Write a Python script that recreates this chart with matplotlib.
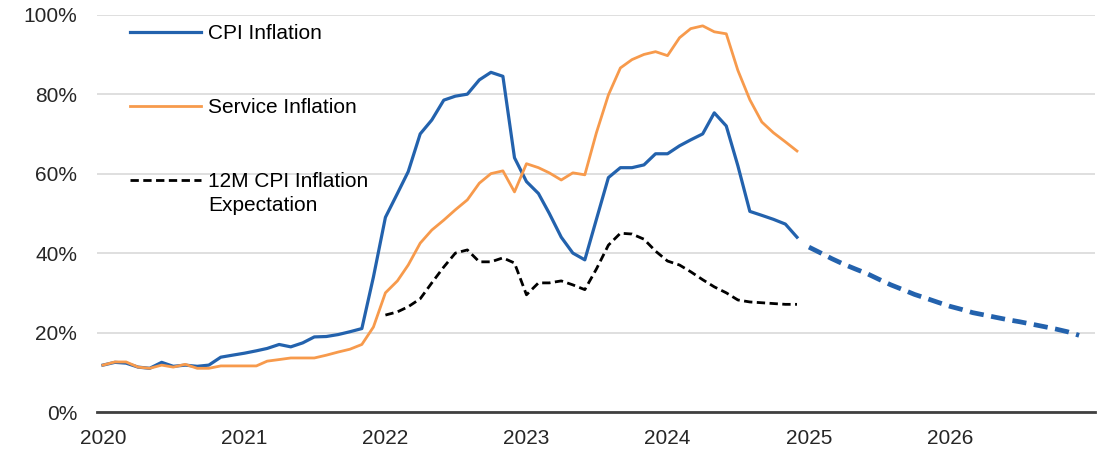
import matplotlib
matplotlib.use('Agg')
import matplotlib.pyplot as plt
import matplotlib.dates as mdates
import numpy as np
import pandas as pd

plt.rcParams['font.family'] = ['Liberation Sans', 'DejaVu Sans']

# monthly values, Jan 2020 - Dec 2024 (%)
cpi = [11.8, 12.5, 12.3, 11.3, 11.0, 12.5, 11.5, 11.8, 11.5, 11.8, 13.8, 14.3,
       14.8, 15.4, 16.0, 17.0, 16.4, 17.4, 18.9, 19.0, 19.5, 20.2, 21.0, 34.0,
       49.0, 55.0, 60.5, 70.0, 73.5, 78.5, 79.5, 80.0, 83.6, 85.5, 84.5, 64.0,
       58.0, 55.0, 50.0, 44.0, 40.0, 38.3, 48.5, 59.0, 61.5, 61.5, 62.2, 65.0,
       65.0, 67.0, 68.5, 70.0, 75.3, 72.0, 62.0, 50.5, 49.5, 48.5, 47.3, 44.0]
service = [11.8, 12.6, 12.6, 11.3, 11.0, 11.8, 11.3, 12.0, 11.0, 11.0, 11.6, 11.6,
           11.6, 11.6, 12.8, 13.2, 13.6, 13.6, 13.6, 14.3, 15.1, 15.8, 17.0, 21.4,
           30.0, 33.0, 37.0, 42.5, 45.8, 48.3, 50.9, 53.4, 57.6, 60.0, 60.7, 55.4,
           62.5, 61.5, 60.2, 58.4, 60.2, 59.7, 70.3, 79.8, 86.6, 88.7, 90.0, 90.7,
           89.7, 94.2, 96.5, 97.2, 95.7, 95.2, 86.0, 78.6, 73.0, 70.3, 68.0, 65.7]
# 12M expectation, Jan 2022 - Dec 2024
expect = [24.4, 25.2, 26.5, 28.5, 32.5, 36.5, 40.0, 40.8, 37.8, 37.8, 38.8, 37.5,
          29.5, 32.5, 32.5, 33.0, 32.0, 30.8, 36.0, 42.0, 45.0, 44.8, 43.5, 40.5,
          38.0, 37.0, 35.3, 33.3, 31.5, 30.0, 28.2, 27.7, 27.5, 27.3, 27.1, 27.1]
# CPI forecast, Jan 2025 - Dec 2026
forecast = [41.5, 40.0, 38.6, 37.2, 36.0, 34.8, 33.4, 32.0, 30.8, 29.6, 28.6, 27.6,
            26.6, 25.8, 25.0, 24.4, 23.8, 23.2, 22.7, 22.1, 21.5, 20.9, 20.2, 19.3]

months = pd.date_range('2020-01-01', periods=len(cpi), freq='MS')
months_exp = pd.date_range('2022-01-01', periods=len(expect), freq='MS')
months_fc = pd.date_range('2025-01-01', periods=len(forecast), freq='MS')

blue = '#2362ad'
orange = '#f79a4c'

fig = plt.figure(figsize=(11.12, 4.53), dpi=100)
ax = fig.add_axes([0.087, 0.0905, 0.898, 0.877])

ax.plot(months, cpi, color=blue, lw=2.3, label='CPI Inflation')
ax.plot(months, service, color=orange, lw=2.0, label='Service Inflation')
ax.plot(months_exp, expect, color='black', lw=2.0, ls=(0, (3, 1.6)),
        label='12M CPI Inflation')
ax.plot(months_fc, forecast, color=blue, lw=3.4, ls=(0, (3, 1.6)))

ax.set_ylim(0, 100)
ax.set_yticks(range(0, 101, 20))
ax.set_yticklabels([f'{v}%' for v in range(0, 101, 20)])
ax.set_xlim(pd.Timestamp('2019-12-16'), pd.Timestamp('2027-01-12'))
ax.set_xticks(pd.date_range('2020-01-01', '2026-01-01', freq='YS'))
ax.xaxis.set_major_formatter(mdates.DateFormatter('%Y'))

ax.grid(axis='y', color='#d9d9d9', lw=1.2)
ax.set_axisbelow(True)
for s in ['left', 'right', 'top']:
    ax.spines[s].set_visible(False)
ax.spines['bottom'].set_color('#404040')
ax.spines['bottom'].set_linewidth(2)
ax.tick_params(axis='both', length=0, labelsize=15, colors='#262626')
ax.tick_params(axis='y', pad=14)
ax.tick_params(axis='x', pad=12)

leg = ax.legend(loc='upper left', bbox_to_anchor=(0.015, 1.023), frameon=False,
                fontsize=15, handlelength=3.4, handletextpad=0.32, labelspacing=2.64)

# second line of the third legend label, kept under the first line
fig.canvas.draw()
bb = leg.get_texts()[2].get_window_extent()
W, H = fig.bbox.width, fig.bbox.height
fig.text(bb.x0 / W, (bb.y0 + bb.y1) / 2 / H - 24 / H, 'Expectation',
         fontsize=15, va='center', ha='left', color='black')

fig.savefig('out.png', dpi=100)
